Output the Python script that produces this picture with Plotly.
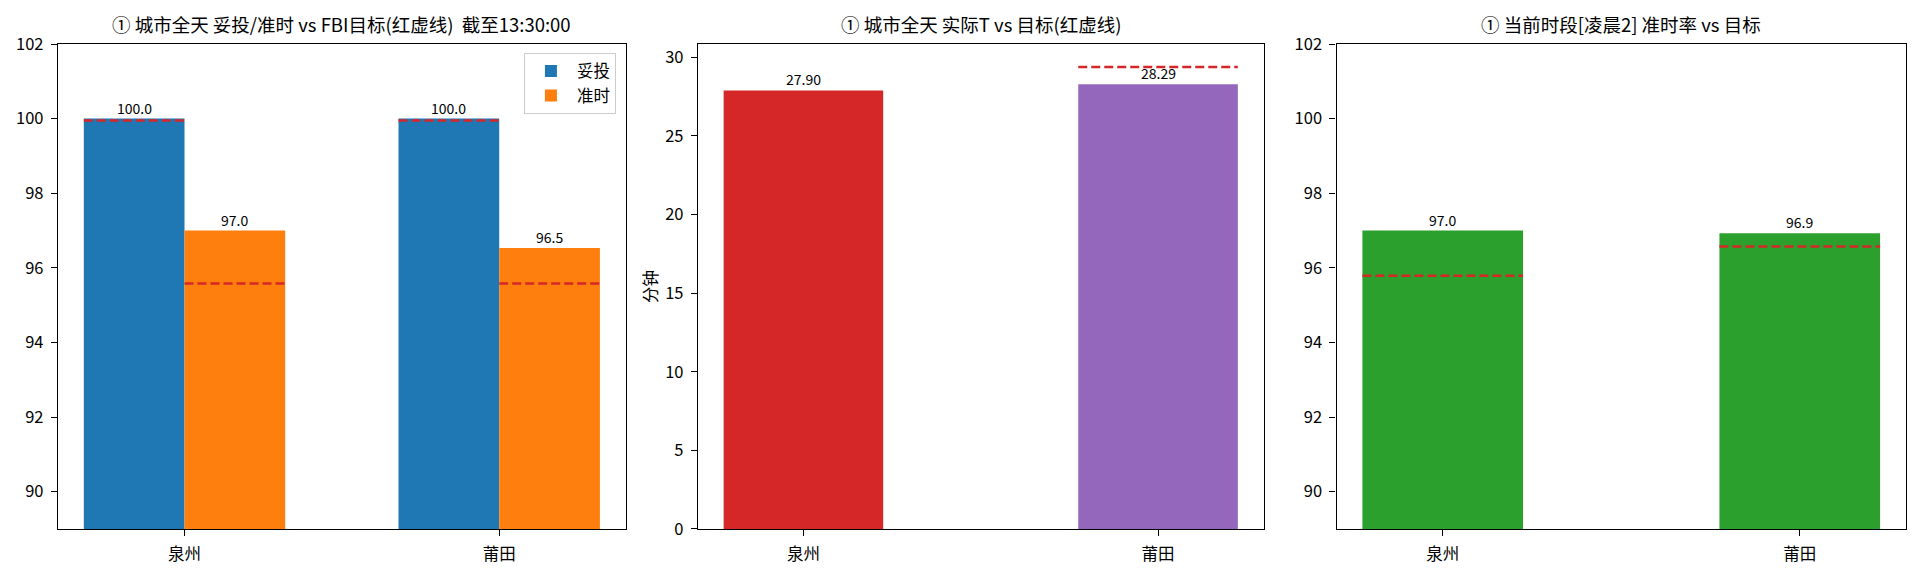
import plotly.graph_objects as go
from plotly.subplots import make_subplots

# ---- data ----
cities = ['泉州', '莆田']

# panel 1: 全天 妥投 / 准时 (%)
tuotou = [100.0, 100.0]
zhunshi = [97.0, 96.53]
tuotou_target = [99.95, 99.95]
zhunshi_target = [95.58, 95.58]

# panel 2: 实际T (分钟)
t_actual = [27.90, 28.29]
t_target = [None, 29.38]

# panel 3: 当前时段[凌晨2] 准时率 (%)
period_rate = [97.0, 96.93]
period_target = [95.79, 96.57]

pct_ticks = [90, 92, 94, 96, 98, 100, 102]
min_ticks = [0, 5, 10, 15, 20, 25, 30]

titles = [
    '① 城市全天 妥投/准时 vs FBI目标(红虚线)\u00a0 截至13:30:00',
    '① 城市全天 实际T vs 目标(红虚线)',
    '① 当前时段[凌晨2] 准时率 vs 目标',
]

FONT = 'Noto Sans CJK SC'
BLUE, ORANGE, RED, PURPLE, GREEN = '#1f77b4', '#ff7f0e', '#d62728', '#9467bd', '#2ca02c'
DASH = dict(color=RED, width=2.5, dash='9px,4px')

W1 = 0.32   # grouped bar width, panel 1
W2 = 0.45   # single bar width, panels 2/3


def seg(centers, half, values):
    xs, ys = [], []
    for c, v in zip(centers, values):
        if v is None:
            continue
        xs += [c - half, c + half, None]
        ys += [v, v, None]
    return xs, ys


fig = make_subplots(rows=1, cols=3)
idx = list(range(len(cities)))
labels = []

# panel 1
x_tt = [i - W1 / 2 for i in idx]
x_zs = [i + W1 / 2 for i in idx]
fig.add_trace(go.Bar(x=x_tt, y=tuotou, width=W1, name='妥投', marker_color=BLUE,
                     marker_line_width=0), row=1, col=1)
fig.add_trace(go.Bar(x=x_zs, y=zhunshi, width=W1, name='准时', marker_color=ORANGE,
                     marker_line_width=0), row=1, col=1)
xs, ys = seg(x_tt, W1 / 2, tuotou_target)
fig.add_trace(go.Scatter(x=xs, y=ys, mode='lines', line=DASH, showlegend=False), row=1, col=1)
xs, ys = seg(x_zs, W1 / 2, zhunshi_target)
fig.add_trace(go.Scatter(x=xs, y=ys, mode='lines', line=DASH, showlegend=False), row=1, col=1)
for x, v in zip(x_tt + x_zs, tuotou + zhunshi):
    labels.append(('x', 'y', x, v, f'{v:.1f}'))

# panel 2
fig.add_trace(go.Bar(x=idx, y=t_actual, width=W2, marker_color=[RED, PURPLE],
                     marker_line_width=0, showlegend=False), row=1, col=2)
xs, ys = seg(idx, W2 / 2, t_target)
fig.add_trace(go.Scatter(x=xs, y=ys, mode='lines', line=DASH, showlegend=False), row=1, col=2)
for x, v in zip(idx, t_actual):
    labels.append(('x2', 'y2', x, v, f'{v:.2f}'))

# panel 3
fig.add_trace(go.Bar(x=idx, y=period_rate, width=W2, marker_color=GREEN,
                     marker_line_width=0, showlegend=False), row=1, col=3)
xs, ys = seg(idx, W2 / 2, period_target)
fig.add_trace(go.Scatter(x=xs, y=ys, mode='lines', line=DASH, showlegend=False), row=1, col=3)
for x, v in zip(idx, period_rate):
    labels.append(('x3', 'y3', x, v, f'{v:.1f}'))

for xr, yr, x, v, t in labels:
    fig.add_annotation(xref=xr, yref=yr, x=x, y=v, text=t, showarrow=False,
                       xanchor='center', yanchor='bottom', yshift=-1,
                       font=dict(size=14, color='black'))

domains = [(0.0302, 0.3259), (0.3635, 0.6581), (0.6961, 0.9927)]
ydom = [0.0816, 0.9236]
axis_style = dict(showline=True, mirror=True, linecolor='black', linewidth=1.3,
                  ticks='outside', ticklen=6, tickwidth=1.3, tickcolor='black',
                  showgrid=False, zeroline=False, automargin=False,
                  tickfont=dict(size=16.5, color='black'))

for k, (d, title) in enumerate(zip(domains, titles), start=1):
    xname = 'xaxis' if k == 1 else f'xaxis{k}'
    yname = 'yaxis' if k == 1 else f'yaxis{k}'
    xr = [-0.402, 1.402] if k == 1 else [-0.2975, 1.2975]
    fig.layout[xname].update(domain=list(d), range=xr, tickmode='array', tickvals=idx,
                             ticktext=cities, ticklabelstandoff=4, **axis_style)
    if k == 2:
        fig.layout[yname].update(domain=ydom, range=[0, 30.85], tickmode='array',
                                 tickvals=min_ticks, ticklabelstandoff=4,
                                 title=dict(text='分钟', standoff=3, font=dict(size=16.5, color='black')),
                                 **axis_style)
    else:
        fig.layout[yname].update(domain=ydom, range=[89, 102], tickmode='array',
                                 tickvals=pct_ticks, ticklabelstandoff=4, **axis_style)
    fig.add_annotation(xref='paper', yref='paper', x=(d[0] + d[1]) / 2, y=ydom[1],
                       text=title, showarrow=False, xanchor='center', yanchor='bottom',
                       yshift=5, font=dict(size=18.5, color='black'))

fig.update_layout(
    width=1920, height=576,
    margin=dict(l=0, r=0, t=0, b=0, pad=0),
    paper_bgcolor='white', plot_bgcolor='white',
    font=dict(family=FONT, color='black'),
    barmode='overlay',
    legend=dict(x=0.3208, y=0.9085, xanchor='right', yanchor='top',
                bgcolor='rgba(255,255,255,0.8)', bordercolor='#cccccc', borderwidth=1,
                font=dict(size=16.5, color='black'), itemwidth=42, tracegroupgap=2),
)

fig.write_html('out.html', config={'displayModeBar': False},
               post_script="document.body.style.margin='0';")
